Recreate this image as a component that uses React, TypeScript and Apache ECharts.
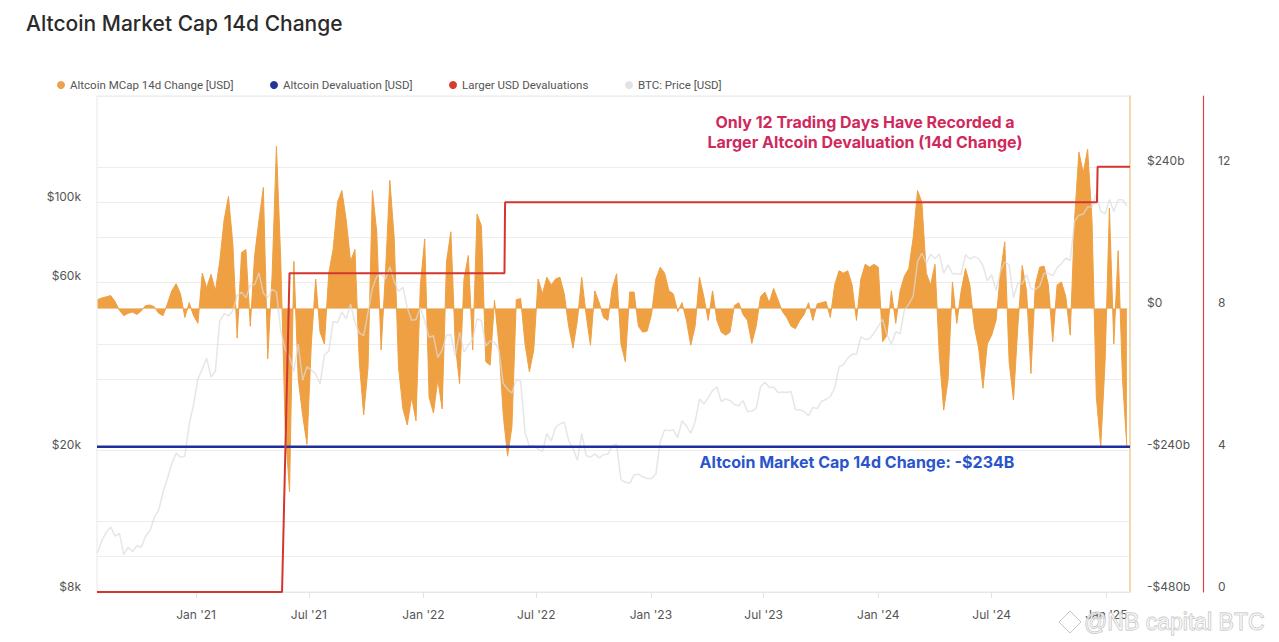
import React, { useEffect, useRef } from 'react';
import * as echarts from 'echarts';

// ---------- data ----------
const DAY = 86400000;
const FIRST_WEEK = '2020-07-27'; // weekly samples start here
const X_START = '2020-07-26';
const X_END = '2025-02-08';

// Altcoin market cap 14d change, billions USD (weekly samples)
const altcoinChangeB = [
  15, 18, 20, 22, 12, -3, -12, -8, -6, -10,
  -4, 5, 6, 3, -8, -12, 8, 30, 42, 25,
  -15, 10, -12, -25, 60, 35, 58, 30, 80, 150,
  190, 110, -50, 95, 100, -30, 90, 150, 205, -85,
  55, 275, 80, -200, -310, 80, -120, -180, -230, -60,
  50, -40, -60, 60, 100, 180, 200, 150, 80, 100,
  -90, -180,
  -100, 200, 130, -70, 60, 217, 120, -100, -170, -197,
  -150, -190, 40, 118, -150, -177, -120, -170, 80, 130,
  -60, -127, 50, 90, -70, 160, 140, -90, -96, 14,
  -60, -180, -250, -200, 15, 17, -60, -107, -70, 50,
  25, 53, 40, 50, 53, 25, -30, -67, -20, 53,
  -10, -62, 30, 10, -15, -20, 35, 59, -60, -90,
  28, 28, -30, -40, -38, -10, 50, 70, 60, 30,
  25, -5, 10, -20, -62, -30, 53, 20, -20, 30,
  -20, -40, -45, -40, 5, 10, -10, -20, -59, -30,
  20, 28, 10, 34, 15, -5, -15, -30, -34, -20,
  -10, 10, -20, 8, 10, 12, -15, 40, 64, 60,
  64, 40, -20, 50, 75, 70,
  75, 70, -56, -45, 30, -25, 30, 55, 68, 120,
  200, 180, 60, 40, 75, -80, -172, -120, 45, -25,
  30, 68, 40, -30, -67, -135, -60, -45, -20, 60,
  113, -90, -155, -30, 73, 30, -110, 40, 70, 72,
  40, -56, 40, 45, 20, -45, 150, 265, 230, 270,
  150, -150, -234, -90, 170, -60, 98, -120, -234,
];

// BTC price, USD (weekly samples)
const btcPrice = [
  10300, 11200, 11800, 12200, 11500, 11700, 10200, 10700, 10400, 10800,
  10700, 11500, 11900, 13000, 13600, 15300, 16700, 18400, 19700, 19200,
  19300, 23800, 27000, 31900, 34000, 36500, 32300, 33500, 46400, 48700,
  48000, 49600, 54900, 56000, 54000, 58700, 58800, 63500, 55600, 54000,
  57000, 56000, 43500, 38700, 36700, 33500, 40000, 31600, 34500, 33800,
  32900, 30800, 37300, 38200, 46300, 45900, 49300, 47100, 51800, 46000,
  43000, 42200, 49100, 57400, 62000, 63000, 61000, 66000, 60000, 56300,
  57800, 50600, 46700, 46900, 50700, 46400, 41800, 42200, 36600, 38500,
  42400, 42500, 37000, 43200, 38000, 39700, 41300, 47100, 46600, 39500,
  40800, 40400, 38500, 31000, 29800, 29100, 31800, 31400, 22500, 20600,
  20700, 20200, 19900, 22400, 21300, 23300, 23800, 24100, 21400, 20300,
  18800, 22400, 19400, 19200, 19600, 19100, 19500, 19600, 20600, 20900,
  16600, 16300, 16200, 17100, 17200, 16900, 16700, 16700, 17200, 21200,
  22900, 22800, 22900, 21800, 24300, 23500, 22400, 24100, 28000, 27100,
  28200, 29600, 30300, 27500, 28000, 27700, 27000, 26800, 27700, 25800,
  25900, 26300, 30300, 31200, 30200, 30200, 29200, 29300, 29200, 29400,
  26100, 26100, 25800, 25100, 26500, 26300, 27600, 27900, 28500, 30000,
  34500, 35000, 36500, 37400, 37400, 41900, 41200, 41400, 42900, 44900,
  46900, 42500, 39900, 43300, 42700, 50000, 51800, 54500, 68300, 72100,
  67600, 71600, 69700, 71600, 63400, 66800, 63100, 63100, 62900, 71400,
  69400, 70500, 69600, 66500, 60300, 62700, 56700, 64100, 68200, 66800,
  54000, 59400, 59000, 62800, 57300, 57000, 58200, 63300, 63300, 62200,
  65600, 67400, 69900, 68700, 88700, 92300, 93000, 97300, 97400, 106000,
  94700, 93000, 102200, 94500, 102000, 102000, 98000,
];

// Altcoin devaluation level, billions USD
const devaluationB = -234;

// Count of days with a larger USD devaluation
const largerDevalDates = ['2020-07-26', '2021-05-19', '2021-05-31', '2022-05-11', '2022-05-12', '2024-12-17', '2024-12-18', '2025-02-08'];
const largerDevalCounts = [0, 0, 9, 9, 11, 11, 12, 12];

// axis ticks
const xTickDates = ['2021-01-01', '2021-07-01', '2022-01-01', '2022-07-01', '2023-01-01', '2023-07-01', '2024-01-01', '2024-07-01', '2025-01-01'];
const btcTickLabels = [8000, 20000, 60000, 100000];
const usdTickLabels = [-480, -240, 0, 240];
const usdGridLines = [-480, -420, -360, -240, -120, -60, 0, 45, 120, 180, 240, 360];
const countTickLabels = [0, 4, 8, 12];

// ---------- helpers ----------
const utc = (s: string) => {
  const [y, m, d] = s.split('-').map(Number);
  return Date.UTC(y, m - 1, d);
};
const MONTHS = ['Jan', 'Feb', 'Mar', 'Apr', 'May', 'Jun', 'Jul', 'Aug', 'Sep', 'Oct', 'Nov', 'Dec'];
const FONT = 'Inter, "Noto Sans", sans-serif';
const LEGEND_FONT = 'Roboto, Inter, sans-serif';

const NAME_ALT = 'Altcoin MCap 14d Change [USD]';
const NAME_DEV = 'Altcoin Devaluation [USD]';
const NAME_LARGER = 'Larger USD Devaluations';
const NAME_BTC = 'BTC: Price [USD]';

const C_ORANGE = '#efa042';
const C_BLUE = '#1f2f9c';
const C_RED = '#d2362f';
const C_GRAY = '#dcdcdc';

function mkLegend(name: string, left: number, color: string) {
  return {
    data: [{ name, itemStyle: { color } }],
    left,
    top: 79,
    padding: 0,
    itemWidth: 8,
    itemHeight: 8,
    icon: 'circle',
    selectedMode: false,
    textStyle: { fontSize: 11.5, color: '#555', fontFamily: LEGEND_FONT },
  };
}

export default function App() {
  const ref = useRef<HTMLDivElement>(null);

  useEffect(() => {
    if (!ref.current) return;
    const chart = echarts.init(ref.current, undefined, { renderer: 'svg' });

    const t0 = utc(FIRST_WEEK);
    const xMin = utc(X_START);
    const xMax = utc(X_END);
    const altData = altcoinChangeB.map((v, i) => [t0 + i * 7 * DAY, v]);
    const btcData = btcPrice.map((p, i) => [t0 + i * 7 * DAY, Math.log10(p)]);
    const devData = [[xMin, devaluationB], [xMax, devaluationB]];
    const redData = largerDevalDates.map((d, i) => [utc(d), largerDevalCounts[i]]);
    const xTicks = xTickDates.map(utc);

    const labelBase = {
      color: '#555',
      fontSize: 12,
      fontFamily: FONT,
      verticalAlign: 'bottom',
      lineHeight: 12,
    };

    const option: any = {
      animation: false,
      backgroundColor: '#ffffff',
      textStyle: { fontFamily: FONT },
      title: {
        text: 'Altcoin Market Cap 14d Change',
        left: 26,
        top: 13,
        padding: 0,
        textStyle: { fontSize: 21, fontWeight: 500, color: '#2b2b2b', fontFamily: FONT },
      },
      legend: [
        mkLegend(NAME_ALT, 57, '#eaa24b'),
        mkLegend(NAME_DEV, 270, '#22339e'),
        mkLegend(NAME_LARGER, 449, '#d53b2f'),
        mkLegend(NAME_BTC, 625, '#e2e2e2'),
      ],
      grid: {
        left: 97,
        right: 149,
        top: 96,
        bottom: 50,
        show: true,
        borderColor: '#e8e8e8',
        borderWidth: 1,
      },
      xAxis: {
        type: 'value',
        min: xMin,
        max: xMax,
        axisLine: { show: true, onZero: false, lineStyle: { color: '#e6e6e6' } },
        axisTick: { show: true, length: 6, lineStyle: { color: '#e3e3e3' }, customValues: xTicks },
        splitLine: { show: false },
        axisLabel: {
          customValues: xTicks,
          color: '#555',
          fontSize: 12,
          fontFamily: FONT,
          margin: 16,
          formatter: (v: number) => {
            const d = new Date(v);
            return `${MONTHS[d.getUTCMonth()]} '${String(d.getUTCFullYear()).slice(2)}`;
          },
        },
      },
      yAxis: [
        {
          type: 'value',
          position: 'left',
          min: Math.log10(8000),
          max: Math.log10(200000),
          axisLine: { show: false },
          axisTick: { show: false },
          splitLine: { show: false },
          axisLabel: {
            ...labelBase,
            margin: 16,
            customValues: btcTickLabels.map((v) => Math.log10(v)),
            formatter: (v: number) => '$' + Math.round(Math.pow(10, v) / 1000) + 'k',
          },
        },
        {
          type: 'value',
          position: 'right',
          min: -480,
          max: 360,
          interval: 60,
          axisLine: { show: true, onZero: false, lineStyle: { color: '#f4cf97', width: 1.5 } },
          axisTick: { show: false, customValues: usdGridLines },
          splitLine: { show: true, lineStyle: { color: '#ededed', width: 1 } },
          axisLabel: {
            ...labelBase,
            margin: 17,
            customValues: usdTickLabels,
            formatter: (v: number) => (v === 0 ? '$0' : v > 0 ? `$${v}b` : `-$${-v}b`),
          },
        },
        {
          type: 'value',
          position: 'right',
          offset: 73,
          min: 0,
          max: 14,
          interval: 2,
          axisLine: { show: true, onZero: false, lineStyle: { color: '#d4473f', width: 1.2 } },
          axisTick: { show: false },
          splitLine: { show: false },
          axisLabel: {
            ...labelBase,
            margin: 15,
            customValues: countTickLabels,
          },
        },
      ],
      series: [
        {
          name: NAME_ALT,
          type: 'line',
          xAxisIndex: 0,
          yAxisIndex: 1,
          data: altData,
          symbol: 'none',
          showSymbol: false,
          lineStyle: { color: C_ORANGE, width: 1 },
          areaStyle: { color: C_ORANGE, opacity: 1, origin: 0 },
          itemStyle: { color: C_ORANGE },
          z: 2,
        },
        {
          name: NAME_BTC,
          type: 'line',
          xAxisIndex: 0,
          yAxisIndex: 0,
          data: btcData,
          showSymbol: false,
          symbol: 'none',
          lineStyle: { color: C_GRAY, width: 1.5, opacity: 0.7 },
          itemStyle: { color: C_GRAY },
          z: 3,
        },
        {
          name: NAME_DEV,
          type: 'line',
          xAxisIndex: 0,
          yAxisIndex: 1,
          data: devData,
          symbol: 'none',
          lineStyle: { color: C_BLUE, width: 2.5 },
          itemStyle: { color: C_BLUE },
          z: 4,
        },
        {
          name: NAME_LARGER,
          type: 'line',
          xAxisIndex: 0,
          yAxisIndex: 2,
          data: redData,
          symbol: 'none',
          clip: false,
          lineStyle: { color: C_RED, width: 2 },
          itemStyle: { color: C_RED },
          z: 5,
        },
      ],
      graphic: [
        {
          type: 'text',
          x: 865,
          y: 132,
          z: 10,
          style: {
            text: 'Only 12 Trading Days Have Recorded a\nLarger Altcoin Devaluation (14d Change)',
            textAlign: 'center',
            textVerticalAlign: 'middle',
            lineHeight: 20,
            fill: '#d0295c',
            font: `bold 16px ${FONT}`,
          },
        },
        {
          type: 'text',
          x: 857,
          y: 462,
          z: 10,
          style: {
            text: 'Altcoin Market Cap 14d Change: -$234B',
            textAlign: 'center',
            textVerticalAlign: 'middle',
            fill: '#2a55cc',
            font: `bold 16px ${FONT}`,
          },
        },
        {
          type: 'polygon',
          z: 10,
          shape: { points: [[1070, 611], [1081, 622], [1070, 633], [1059, 622]] },
          style: { fill: 'rgba(255,255,255,0)', stroke: '#c6c6c6', lineWidth: 1 },
        },
        {
          type: 'text',
          x: 1084,
          y: 622,
          z: 10,
          style: {
            text: '@NB capital BTC',
            textVerticalAlign: 'middle',
            fill: 'rgba(255,255,255,0.5)',
            stroke: '#bdbdbd',
            lineWidth: 0.9,
            font: '23px "Liberation Sans", Arial, sans-serif',
          },
        },
      ],
    };

    chart.setOption(option);
    return () => chart.dispose();
  }, []);

  return (
    <div
      ref={ref}
      style={{ position: 'absolute', left: 0, top: 0, width: 1279, height: 642, background: '#fff' }}
    />
  );
}
